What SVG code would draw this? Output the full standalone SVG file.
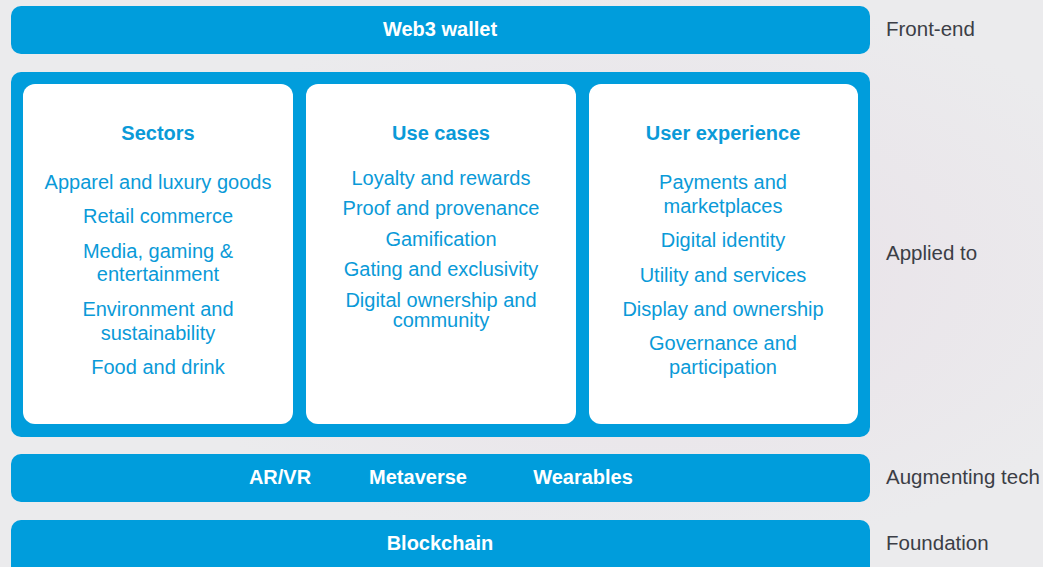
<svg xmlns="http://www.w3.org/2000/svg" width="1043" height="567" viewBox="0 0 1043 567">
  <defs>
    <radialGradient id="bg" cx="0.62" cy="0.48" r="0.5">
      <stop offset="0" stop-color="#e9e1e8"/>
      <stop offset="1" stop-color="#ebebed"/>
    </radialGradient>
    <style>
      .bar { fill: #009ddc; }
      .card { fill: #ffffff; }
      .bt { font-family: "Liberation Sans", Arial, sans-serif; font-size: 20px; font-weight: bold; fill: #ffffff; text-anchor: middle; }
      .title { font-family: "Liberation Sans", Arial, sans-serif; font-size: 20px; font-weight: bold; fill: #0a9ad8; text-anchor: middle; }
      .item { font-family: "Liberation Sans", Arial, sans-serif; font-size: 20px; fill: #0a9ad8; text-anchor: middle; }
      .side { font-family: "Liberation Sans", Arial, sans-serif; font-size: 20.5px; fill: #3b3e46; }
    </style>
  </defs>
  <rect x="0" y="0" width="1043" height="567" fill="url(#bg)"/>

  <g id="web3-wallet">
    <rect class="bar" x="11" y="6" width="859" height="48" rx="10"/>
    <text class="bt" x="440" y="36">Web3 wallet</text>
  </g>

  <g id="applied-panel">
    <rect class="bar" x="11" y="72" width="859" height="365" rx="10"/>
  </g>

  <g id="sectors">
    <rect class="card" x="23" y="84" width="270" height="340" rx="12"/>
    <text class="title" x="158" y="140">Sectors</text>
    <text class="item" x="158" y="189">Apparel and luxury goods</text>
    <text class="item" x="158" y="223">Retail commerce</text>
    <text class="item" x="158" y="258">Media, gaming &amp;</text>
    <text class="item" x="158" y="281">entertainment</text>
    <text class="item" x="158" y="316">Environment and</text>
    <text class="item" x="158" y="340">sustainability</text>
    <text class="item" x="158" y="374">Food and drink</text>
  </g>

  <g id="use-cases">
    <rect class="card" x="306" y="84" width="270" height="340" rx="12"/>
    <text class="title" x="441" y="140">Use cases</text>
    <text class="item" x="441" y="185">Loyalty and rewards</text>
    <text class="item" x="441" y="215">Proof and provenance</text>
    <text class="item" x="441" y="246">Gamification</text>
    <text class="item" x="441" y="276">Gating and exclusivity</text>
    <text class="item" x="441" y="307">Digital ownership and</text>
    <text class="item" x="441" y="327">community</text>
  </g>

  <g id="user-experience">
    <rect class="card" x="589" y="84" width="269" height="340" rx="12"/>
    <text class="title" x="723" y="140">User experience</text>
    <text class="item" x="723" y="189">Payments and</text>
    <text class="item" x="723" y="213">marketplaces</text>
    <text class="item" x="723" y="247">Digital identity</text>
    <text class="item" x="723" y="282">Utility and services</text>
    <text class="item" x="723" y="316">Display and ownership</text>
    <text class="item" x="723" y="350">Governance and</text>
    <text class="item" x="723" y="374">participation</text>
  </g>

  <g id="augmenting-tech">
    <rect class="bar" x="11" y="454" width="859" height="48" rx="10"/>
    <text class="bt" x="280" y="484">AR/VR</text>
    <text class="bt" x="418" y="484">Metaverse</text>
    <text class="bt" x="583" y="484">Wearables</text>
  </g>

  <g id="blockchain">
    <rect class="bar" x="11" y="520" width="859" height="58" rx="10"/>
    <text class="bt" x="440" y="550">Blockchain</text>
  </g>

  <g id="side-labels">
    <text class="side" x="886" y="36">Front-end</text>
    <text class="side" x="886" y="260">Applied to</text>
    <text class="side" x="886" y="484">Augmenting tech</text>
    <text class="side" x="886" y="550">Foundation</text>
  </g>

  <g id="connectors"/>
</svg>
